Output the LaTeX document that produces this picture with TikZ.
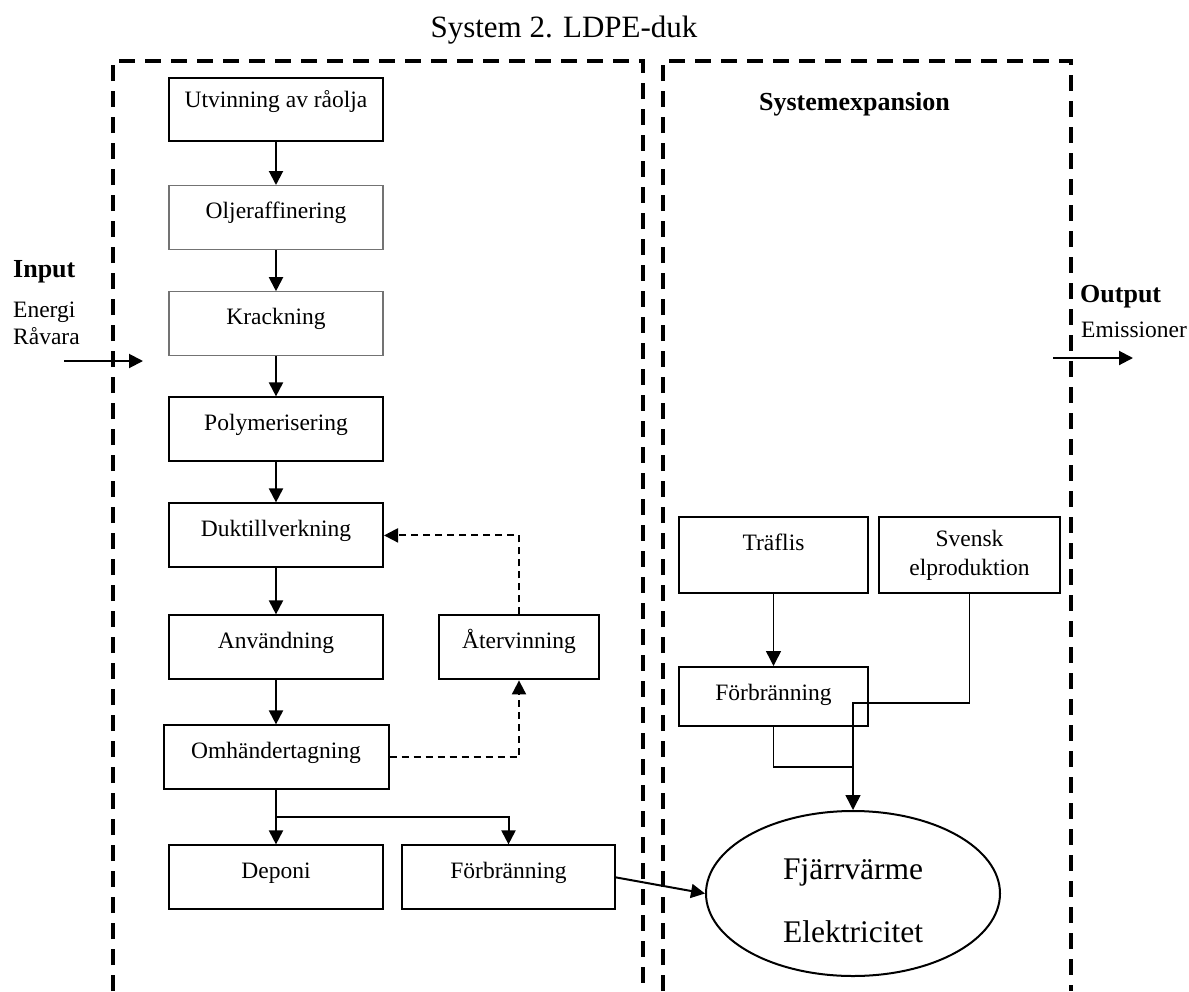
\documentclass[tikz,border=0pt]{standalone}
\usepackage{fontspec}
\setmainfont{Liberation Serif}
\usetikzlibrary{shapes,arrows.meta,positioning,calc}

\begin{document}
\begin{tikzpicture}[x=1pt, y=-1pt, node distance=40pt, font=\fontsize{23.5}{29}\selectfont]
\tikzstyle{box} = [rectangle, draw, line width=2pt, minimum width=214pt, minimum height=64pt, inner sep=2pt]
\tikzstyle{process} = [box, text height=16pt, text depth=14pt]
\tikzstyle{greyprocess} = [process, draw=black!55, line width=1.2pt]
\tikzstyle{product} = [ellipse, draw, line width=2pt, minimum width=294pt, minimum height=165pt, align=center, font=\fontsize{31.5}{63}\selectfont]
\tikzstyle{plain} = [inner sep=0pt]
\tikzstyle{boldlabel} = [inner sep=0pt, font=\fontsize{26}{30}\selectfont\bfseries]
\tikzstyle{arrow} = [line width=2pt, -{Triangle[length=14pt,width=14pt]}]
\tikzstyle{thinarrow} = [line width=1.5pt, -{Triangle[length=15pt,width=15pt]}]
\tikzstyle{thinline} = [line width=1.5pt]
\tikzstyle{recycle} = [line width=2pt, dash pattern=on 7pt off 5pt, -{Triangle[length=14pt,width=14pt]}]
\tikzstyle{sysframe} = [line width=4pt, dash pattern=on 16pt off 10pt]

\useasboundingbox (0,0) rectangle (1189,991);

% rubriker
\node [plain, font=\fontsize{31}{36}\selectfont, anchor=base] (title) at (564,37) {System 2. LDPE-duk};
\node [boldlabel, anchor=base] (sysexp) at (854.5,110) {Systemexpansion};
\node [boldlabel, anchor=base west] (input) at (13,277) {Input};
\node [plain, anchor=base west] (energi) at (13,317) {Energi};
\node [plain, anchor=base west] (ravara) at (13,344) {Råvara};
\node [boldlabel, anchor=base west] (output) at (1080,302) {Output};
\node [plain, anchor=base west] (emission) at (1081,337) {Emissioner};

% systemgranser
\draw [sysframe] (113,991) -- (113,61) -- (643,61) -- (643,991);
\draw [sysframe] (663,991) -- (663,61) -- (1071,61) -- (1071,991);

% huvudkedjan
\node [process, text depth=21pt, minimum height=63pt] (utvinning) at (276,109.5) {Utvinning av råolja};
\node [greyprocess, below=43pt of utvinning] (olje) {Oljeraffinering};
\node [greyprocess, below=41pt of olje] (krack) {Krackning};
\node [process, below=40pt of krack] (poly) {Polymerisering};
\node [process, below=40pt of poly] (dukt) {Duktillverkning};
\node [process, below=46pt of dukt] (anv) {Användning};
\node [process, below=44pt of anv, minimum width=225pt] (omh) {Omhändertagning};
\node [process, below=54pt of omh] (deponi) {Deponi};
\node [process, right=17pt of deponi, minimum width=213pt] (forbr1) {Förbränning};
\node [process, right=54pt of anv, minimum width=160pt] (atervinning) {Återvinning};

% systemexpansion
\node [process, minimum width=189pt, minimum height=76pt, text depth=26pt] (traflis) at (773.5,555) {Träflis};
\node [box, right=9pt of traflis, minimum width=181pt, minimum height=76pt, align=center] (svensk) {Svensk\\elproduktion};
\node [process, below=72pt of traflis, minimum width=189pt, minimum height=59pt, text depth=9pt] (forbr2) {Förbränning};
\node [product] (fjarr) at (853,893.5) {\rule{0pt}{35pt}Fjärrvärme\\Elektricitet};

% in- och utflöden
\coordinate (inleft) at (64,361);
\coordinate (inright) at (143,361);
\coordinate (outleft) at (1053,358);
\coordinate (outright) at (1133,358);
\draw [arrow] (inleft) -- (inright);
\draw [arrow] (outleft) -- (outright);

\draw [arrow] (utvinning) -- (olje);
\draw [arrow] (olje) -- (krack);
\draw [arrow] (krack) -- (poly);
\draw [arrow] (poly) -- (dukt);
\draw [arrow] (dukt) -- (anv);
\draw [arrow] (anv) -- (omh);
\draw [arrow] (omh) -- (deponi);
\draw [arrow] (omh.south) ++(0,27) -| (forbr1.north);
\draw [recycle] (omh.east) -| (atervinning.south);
\draw [recycle] (atervinning.north) |- (dukt.east);
\draw [arrow] (forbr1.east) -- (fjarr.west);

\draw [thinarrow] (traflis) -- (forbr2);
\draw [thinarrow] (svensk.south) -- ++(0,109) -| (fjarr.north);
\draw [thinline] (forbr2.south) |- ([yshift=43pt]fjarr.north);
\end{tikzpicture}
\end{document}
